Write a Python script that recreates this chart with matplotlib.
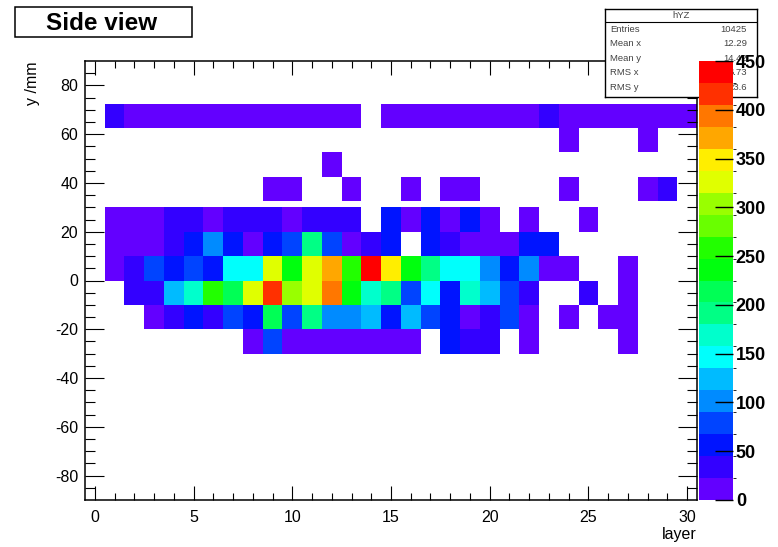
import colorsys
import numpy as np
import matplotlib
matplotlib.use("Agg")
import matplotlib.pyplot as plt
from matplotlib.colors import ListedColormap, BoundaryNorm
from matplotlib.patches import Rectangle

plt.rcParams['font.family'] = ['Liberation Sans', 'DejaVu Sans']
plt.rcParams['axes.unicode_minus'] = False

# ---- histogram hYZ: counts per layer (0..30) for each y strip ----
layers = np.arange(31)
y_edges = [-30, -20, -10, 0, 10, 20, 30, 32.5, 42.5, 52.5, 62.5, 72.5]

y_m25 = [0,0,0,0,0,0,0,0, 10,80,10,10,10,10,10,10,10, 0,55,35,35,0,10, 0,0,0,0,10, 0,0,0]
y_m15 = [0,0,0, 10,35,55,35,80,55,215,80,190,100,100,125,55,125,80,55,10,35,80,10, 0,10,0,10,10, 0,0,0]
y_m5  = [0,0, 35,35,125,170,255,215,325,415,300,325,395,235,170,190,80,145,55,170,125,80,35, 0,0,35,0,10, 0,0,0]
y_p5  = [0, 10,35,80,55,80,55,145,145,325,240,325,370,255,440,350,240,190,145,145,100,55,100,10,10, 0,0,10, 0,0,0]
y_p15 = [0, 10,10,10,35,55,100,55,10,55,80,190,80,10,35,55,0,55,35,10,10,10,55,55, 0,0,0,0,0,0,0]
y_p25 = [0, 10,10,10,35,35,10,35,35,35,10,35,35,35,0,55,10,55,10,55,10,0,10,0,0,10, 0,0,0,0,0]
y_gap = [0]*31
y_p37 = [0,0,0,0,0,0,0,0,0, 10,10,0,0,10,0,0,10,0,10,10,0,0,0,0,10,0,0,0,10,35,0]
y_p47 = [0,0,0,0,0,0,0,0,0,0,0,0,10,0,0,0,0,0,0,0,0,0,0,0,0,0,0,0,0,0,0]
y_p57 = [0,0,0,0,0,0,0,0,0,0,0,0,0,0,0,0,0,0,0,0,0,0,0,0,10,0,0,0,10,0,0]
y_p67 = [0, 35,10,10,10,10,10,10,10,10,10,10,10,10, 0, 10,10,10,10,10,10,10,10,35, 10,10,10,10,10,10,10]

z_levels = np.linspace(0, 450, 21)
z_ticks = [0, 50, 100, 150, 200, 250, 300, 350, 400, 450]
x_ticks = [0, 5, 10, 15, 20, 25, 30]
y_ticks = [-80, -60, -40, -20, 0, 20, 40, 60, 80]

stat_names = ["Entries", "Mean x", "Mean y", "RMS x", "RMS y"]
stat_values = ["10425", "12.29", "14.42", "6.73", "23.6"]

# ---- ROOT "pretty" palette, sampled for 20 contour levels ----
ncol, ndiv = 50, 20
pal = []
for k in range(ndiv):
    idx = int((k + 0.99) * ncol / ndiv)
    hue = 280.0 - (idx + 1) * (280.0 / ncol)
    pal.append(colorsys.hls_to_rgb(hue / 360.0, 0.5, 1.0))
cmap = ListedColormap(pal)
norm = BoundaryNorm(z_levels, cmap.N)

Z = np.array([y_m25, y_m15, y_m5, y_p5, y_p15, y_p25, y_gap, y_p37, y_p47, y_p57, y_p67], dtype=float)
Z = np.ma.masked_less_equal(Z, 0)
x_edges = np.append(layers - 0.5, layers[-1] + 0.5)

W, H = 778, 547
fig = plt.figure(figsize=(W / 100, H / 100), dpi=100)

def fbox(x0, y0, x1, y1):
    return [x0 / W, 1 - y1 / H, (x1 - x0) / W, (y1 - y0) / H]

ax = fig.add_axes(fbox(85, 61, 697, 500))
ax.set_zorder(0)
ax.pcolormesh(x_edges, y_edges, Z, cmap=cmap, norm=norm, edgecolors='none')
ax.set_xlim(-0.5, 30.5)
ax.set_ylim(-90, 90)
ax.set_xticks(x_ticks)
ax.set_yticks(y_ticks)
ax.set_xticks(np.arange(0, 31, 1), minor=True)
ax.set_yticks(np.arange(-85, 90, 5), minor=True)
ax.tick_params(axis='x', which='major', direction='in', length=10, width=0.8,
               top=True, bottom=True, labelsize=11.5, pad=7)
ax.tick_params(axis='x', which='minor', direction='in', length=5, width=0.8,
               top=True, bottom=True)
ax.tick_params(axis='y', which='major', direction='in', length=13.5, width=0.8,
               left=True, right=True, labelsize=11.5, pad=5)
ax.tick_params(axis='y', which='minor', direction='in', length=7, width=0.8,
               left=True, right=True)
for s in ax.spines.values():
    s.set_linewidth(1.1)
ax.text(1.0, -0.062, "layer", transform=ax.transAxes, ha='right', va='top', fontsize=11.5)
fig.text(33 / W, 1 - 62 / H, "y /mm", rotation=90, ha='center', va='top', fontsize=11.5)

# ---- statistics box ----
sax = fig.add_axes(fbox(605, 9, 757, 97))
sax.set_zorder(1)
sax.set_xlim(0, 1)
sax.set_ylim(0, 1)
sax.set_xticks([])
sax.set_yticks([])
for s in sax.spines.values():
    s.set_linewidth(1.0)
sh = 97 - 9
sax.axhline(1 - (21.5 - 9) / sh, color='black', lw=0.8)
sax.text(0.5, 1 - (15 - 9) / sh, "hYZ", ha='center', va='center', fontsize=6.8, color='#444444')
for i, (n, v) in enumerate(zip(stat_names, stat_values)):
    yy = 1 - (29 + 14.6 * i - 9) / sh
    sax.text(5 / 152, yy, n, ha='left', va='center', fontsize=6.8, color='#444444')
    sax.text(142 / 152, yy, v, ha='right', va='center', fontsize=6.8, color='#444444')

# ---- colour scale ----
cax = fig.add_axes(fbox(699, 61, 733, 500))
cax.set_zorder(2)
cb = fig.colorbar(plt.cm.ScalarMappable(norm=norm, cmap=cmap), cax=cax, ticks=z_ticks)
cb.outline.set_visible(False)
cax.set_ylim(0, 450)
cax.tick_params(axis='y', direction='in', length=13, width=1.0, right=True, left=False,
                labelsize=13, pad=2)
for lbl in cax.get_yticklabels():
    lbl.set_fontweight('bold')

# ---- title box ----
fig.patches.append(Rectangle((15 / W, 1 - 37 / H), (192 - 15) / W, (37 - 7.5) / H,
                             transform=fig.transFigure, facecolor='white',
                             edgecolor='black', lw=1.1))
fig.text(102 / W, 1 - 23 / H, "Side view", ha='center', va='center',
         fontsize=17.5, fontweight='bold')

fig.savefig("out.png", dpi=100)
